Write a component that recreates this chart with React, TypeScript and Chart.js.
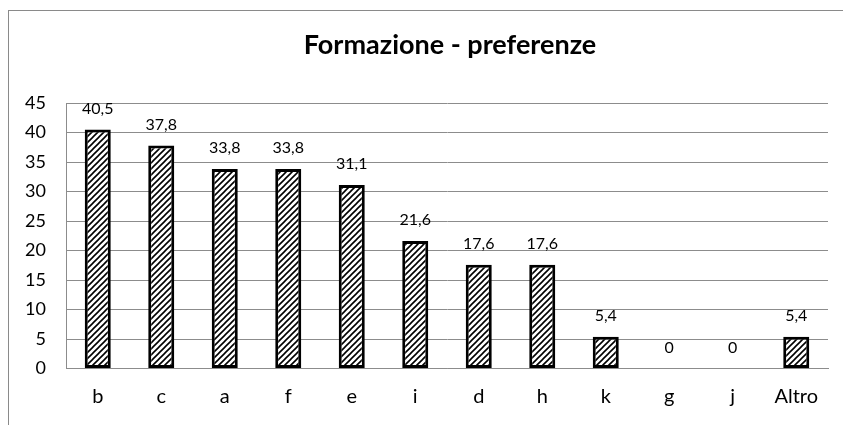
import React, { useEffect, useRef } from "react";
import { Chart, registerables } from "chart.js";

Chart.register(...registerables);

const categories = ["b", "c", "a", "f", "e", "i", "d", "h", "k", "g", "j", "Altro"];
const values = [40.5, 37.8, 33.8, 33.8, 31.1, 21.6, 17.6, 17.6, 5.4, 0, 0, 5.4];
const yTicks = [0, 5, 10, 15, 20, 25, 30, 35, 40, 45];
const titleText = "Formazione - preferenze";

const FONT = "Lato, 'Open Sans', sans-serif";
const CANVAS_W = 834;
const CANVAS_H = 414;

function makePattern(): CanvasPattern | string {
  const s = 6;
  const c = document.createElement("canvas");
  c.width = s;
  c.height = s;
  const g = c.getContext("2d");
  if (!g) return "#888";
  g.fillStyle = "#ffffff";
  g.fillRect(0, 0, s, s);
  g.strokeStyle = "#000000";
  g.lineWidth = 1.6;
  g.beginPath();
  g.moveTo(-1, s + 1);
  g.lineTo(s + 1, -1);
  g.moveTo(-1, 1);
  g.lineTo(1, -1);
  g.moveTo(s - 1, s + 1);
  g.lineTo(s + 1, s - 1);
  g.stroke();
  const p = g.createPattern(c, "repeat");
  return p || "#888";
}

const titlePlugin = {
  id: "customTitle",
  afterDraw(chart: any) {
    const { ctx, chartArea } = chart;
    ctx.save();
    ctx.font = `bold 27px ${FONT}`;
    ctx.fillStyle = "#000";
    ctx.textAlign = "center";
    ctx.textBaseline = "alphabetic";
    ctx.fillText(titleText, (chartArea.left + chartArea.right) / 2 + 3, 43);
    ctx.restore();
  },
};

const valueLabelPlugin = {
  id: "valueLabels",
  afterDatasetsDraw(chart: any) {
    const { ctx } = chart;
    const meta = chart.getDatasetMeta(0);
    ctx.save();
    ctx.font = `16px ${FONT}`;
    ctx.fillStyle = "#000";
    ctx.textAlign = "center";
    ctx.textBaseline = "middle";
    meta.data.forEach((bar: any, i: number) => {
      const v = values[i];
      const label = String(v).replace(".", ",");
      ctx.fillText(label, bar.x, bar.y - 21);
    });
    ctx.restore();
  },
};

export default function App() {
  const ref = useRef<HTMLCanvasElement | null>(null);

  useEffect(() => {
    if (!ref.current) return;
    const pattern = makePattern();
    const chart = new Chart(ref.current, {
      type: "bar",
      data: {
        labels: categories,
        datasets: [
          {
            data: values,
            backgroundColor: pattern as any,
            borderColor: "#000",
            borderWidth: (c: any) => (values[c.dataIndex] === 0 ? 0 : 3),
            borderSkipped: false,
            categoryPercentage: 1,
            barPercentage: 0.41,
          },
        ],
      },
      options: {
        responsive: false,
        animation: false,
        layout: { padding: { top: 92, right: 15, left: 0, bottom: 0 } },
        plugins: {
          legend: { display: false },
          title: { display: false },
          tooltip: { enabled: false },
        },
        scales: {
          x: {
            grid: { display: false, drawTicks: false },
            border: { display: true, color: "#8c8c8c", width: 1 },
            ticks: {
              font: { family: FONT, size: 20 },
              color: "#000",
              padding: 16,
            },
            afterFit: (s: any) => {
              s.height = 56.5;
            },
          },
          y: {
            min: 0,
            max: 45,
            afterBuildTicks: (s: any) => {
              s.ticks = yTicks.map((v) => ({ value: v }));
            },
            grid: { color: "#8c8c8c", lineWidth: 1, drawTicks: false },
            border: { display: true, color: "#8c8c8c", width: 1 },
            ticks: {
              font: { family: FONT, size: 18 },
              color: "#000",
              padding: 20,
            },
            afterFit: (s: any) => {
              s.width = 57;
            },
          },
        },
      },
      plugins: [titlePlugin, valueLabelPlugin],
    });
    return () => chart.destroy();
  }, []);

  return (
    <div
      style={{
        position: "fixed",
        left: 8,
        top: 10,
        width: 835,
        height: 415,
        boxSizing: "border-box",
        borderLeft: "1px solid #8a8a8a",
        borderTop: "1px solid #8a8a8a",
        background: "#fff",
        overflow: "hidden",
      }}
    >
      <canvas ref={ref} width={CANVAS_W} height={CANVAS_H} style={{ display: "block" }} />
    </div>
  );
}
